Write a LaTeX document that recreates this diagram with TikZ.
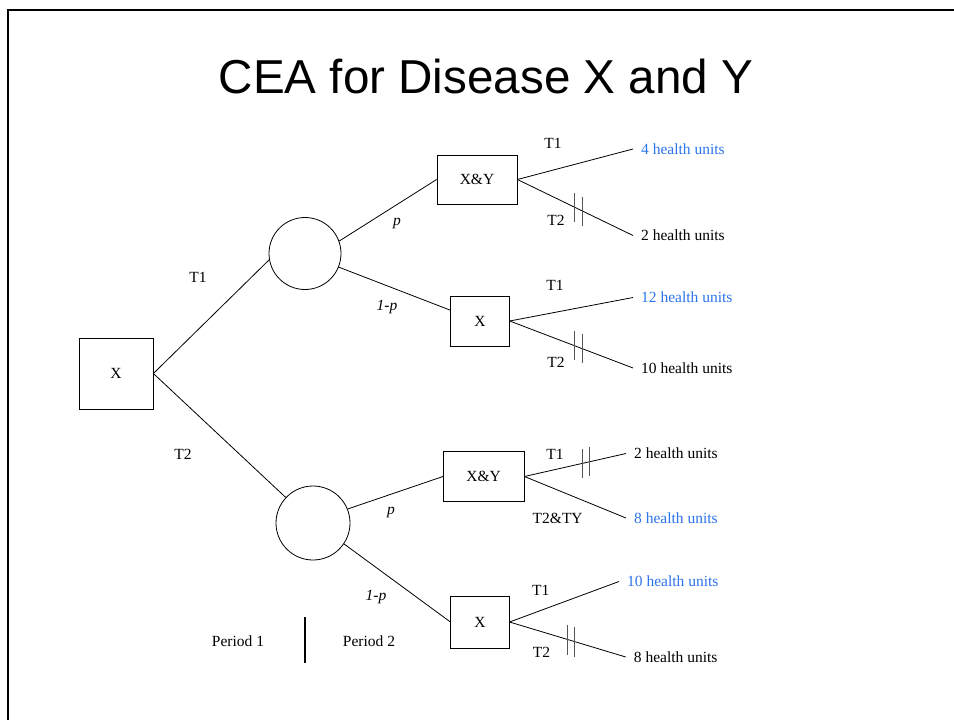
\documentclass[tikz,border=0pt]{standalone}
\usepackage{fontspec}
\setmainfont{Liberation Serif}
\newfontfamily\titlefont{Liberation Sans}
\usepackage{tikz}
\usetikzlibrary{positioning,calc}
\definecolor{gain}{RGB}{44,116,235}
\definecolor{cutgray}{RGB}{85,85,85}

\begin{document}
\begin{tikzpicture}[
    x=1pt, y=-1pt,
    lbl/.style={font=\fontsize{15.5}{18}\selectfont, inner sep=0pt},
    decision/.style={draw, line width=0.8pt, rectangle, inner sep=0pt, font=\fontsize{15.5}{18}\selectfont},
    chance/.style={draw, line width=0.8pt, circle, inner sep=0pt},
    outcome/.style={anchor=west, inner xsep=8pt, inner ysep=1pt, font=\fontsize{15.5}{18}\selectfont},
    branch/.style={line width=0.8pt},
    cut/.style={draw=cutgray, line width=1pt}
]
\useasboundingbox (0,0) rectangle (954,720);

% ========== FRAME AND TITLE ==========
\draw[line width=2pt] (8,720) -- (8,10) -- (954,10);
\node[font=\titlefont\fontsize{47.6}{56}\selectfont, anchor=base] (title) at (486,93) {CEA for Disease X and Y};

% ========== PERIOD 1: FIRST TREATMENT ==========
\node[decision, minimum width=74pt, minimum height=71pt] (root) at (116,373.5) {X};
\node[chance, minimum size=72pt] (c1) at (305,253.5) {};
\node[chance, minimum size=74pt] (c2) at (313,523) {};

\draw[branch] (root.east) -- (c1.190);
\draw[branch] (root.east) -- (c2);
\node[lbl] (t1) at (198,277) {T1};
\node[lbl] (t2) at (183,454) {T2};

% ========== DISEASE STATE AFTER PERIOD 1 ==========
\node[decision, minimum width=80pt, minimum height=49pt] (xy1) at (477,179.5) {X\&Y};
\node[decision, minimum width=58.6pt, minimum height=50pt] (x1) at (480,321) {X};
\node[decision, minimum width=80.7pt, minimum height=49.6pt] (xy2) at (483.7,476.5) {X\&Y};
\node[decision, minimum width=58.3pt, minimum height=52pt] (x2) at (480,622) {X};

\draw[branch] (c1.20) -- (xy1.west);
\draw[branch] (c1.-22) -- (x1.160);
\draw[branch] (c2.22) -- (xy2.west);
\draw[branch] (c2.-34) -- (x2.west);

\node[lbl, font=\fontsize{15.5}{18}\selectfont\itshape] (p1) at (397,223) {p};
\node[lbl, font=\fontsize{15.5}{18}\selectfont\itshape] (q1) at (387,307) {1-p};
\node[lbl, font=\fontsize{15.5}{18}\selectfont\itshape] (p2) at (391,512) {p};
\node[lbl, font=\fontsize{15.5}{18}\selectfont\itshape] (q2) at (376,597) {1-p};

% ========== PERIOD 2: OUTCOMES ==========
\node[outcome, text=gain] (h1) at (633,149) {4 health units};
\node[outcome] (h2) at (633,235.5) {2 health units};
\node[outcome, text=gain] (h3) at (633,297.5) {12 health units};
\node[outcome] (h4) at (633,368) {10 health units};
\node[outcome] (h5) at (626,453.5) {2 health units};
\node[outcome, text=gain] (h6) at (626,518) {8 health units};
\node[outcome, text=gain] (h7) at (619,581.5) {10 health units};
\node[outcome] (h8) at (625.7,657) {8 health units};

\draw[branch] (xy1.east) -- (h1.west);
\draw[branch] (xy1.east) -- coordinate[pos=0.494] (k1a) coordinate[pos=0.563] (k1b) (h2.west);
\draw[branch] (x1.east) -- (h3.west);
\draw[branch] (x1.east) -- coordinate[pos=0.529] (k2a) coordinate[pos=0.590] (k2b) (h4.west);
\draw[branch] (xy2.east) -- coordinate[pos=0.569] (k3a) coordinate[pos=0.637] (k3b) (h5.west);
\draw[branch] (xy2.east) -- (h6.west);
\draw[branch] (x2.east) -- (h7.west);
\draw[branch] (x2.east) -- coordinate[pos=0.501] (k4a) coordinate[pos=0.562] (k4b) (h8.west);

% double bars on the branches
\draw[cut] ([yshift=14.5pt]k1a) -- ([yshift=-14.5pt]k1a);
\draw[cut] ([yshift=14.5pt]k1b) -- ([yshift=-14.5pt]k1b);
\draw[cut] ([yshift=14.5pt]k2a) -- ([yshift=-14.5pt]k2a);
\draw[cut] ([yshift=14.5pt]k2b) -- ([yshift=-14.5pt]k2b);
\draw[cut] ([yshift=14.5pt]k3a) -- ([yshift=-14.5pt]k3a);
\draw[cut] ([yshift=14.5pt]k3b) -- ([yshift=-14.5pt]k3b);
\draw[cut] ([yshift=15pt]k4a) -- ([yshift=-15pt]k4a);
\draw[cut] ([yshift=15pt]k4b) -- ([yshift=-15pt]k4b);

\node[lbl] (b1) at (553,143) {T1};
\node[lbl] (b2) at (556,220) {T2};
\node[lbl] (b3) at (555,285) {T1};
\node[lbl] (b4) at (556,362) {T2};
\node[lbl] (b5) at (555,454) {T1};
\node[lbl] (b6) at (557.7,518.3) {T2\&TY};
\node[lbl] (b7) at (540.7,590.4) {T1};
\node[lbl] (b8) at (541.4,652) {T2};

% ========== PERIOD LEGEND ==========
\node[lbl] (per1) at (238,641) {Period 1};
\node[lbl] (per2) at (369,641) {Period 2};
\draw[line width=1.2pt] (305,617) -- (305,662.5);

\end{tikzpicture}
\end{document}
